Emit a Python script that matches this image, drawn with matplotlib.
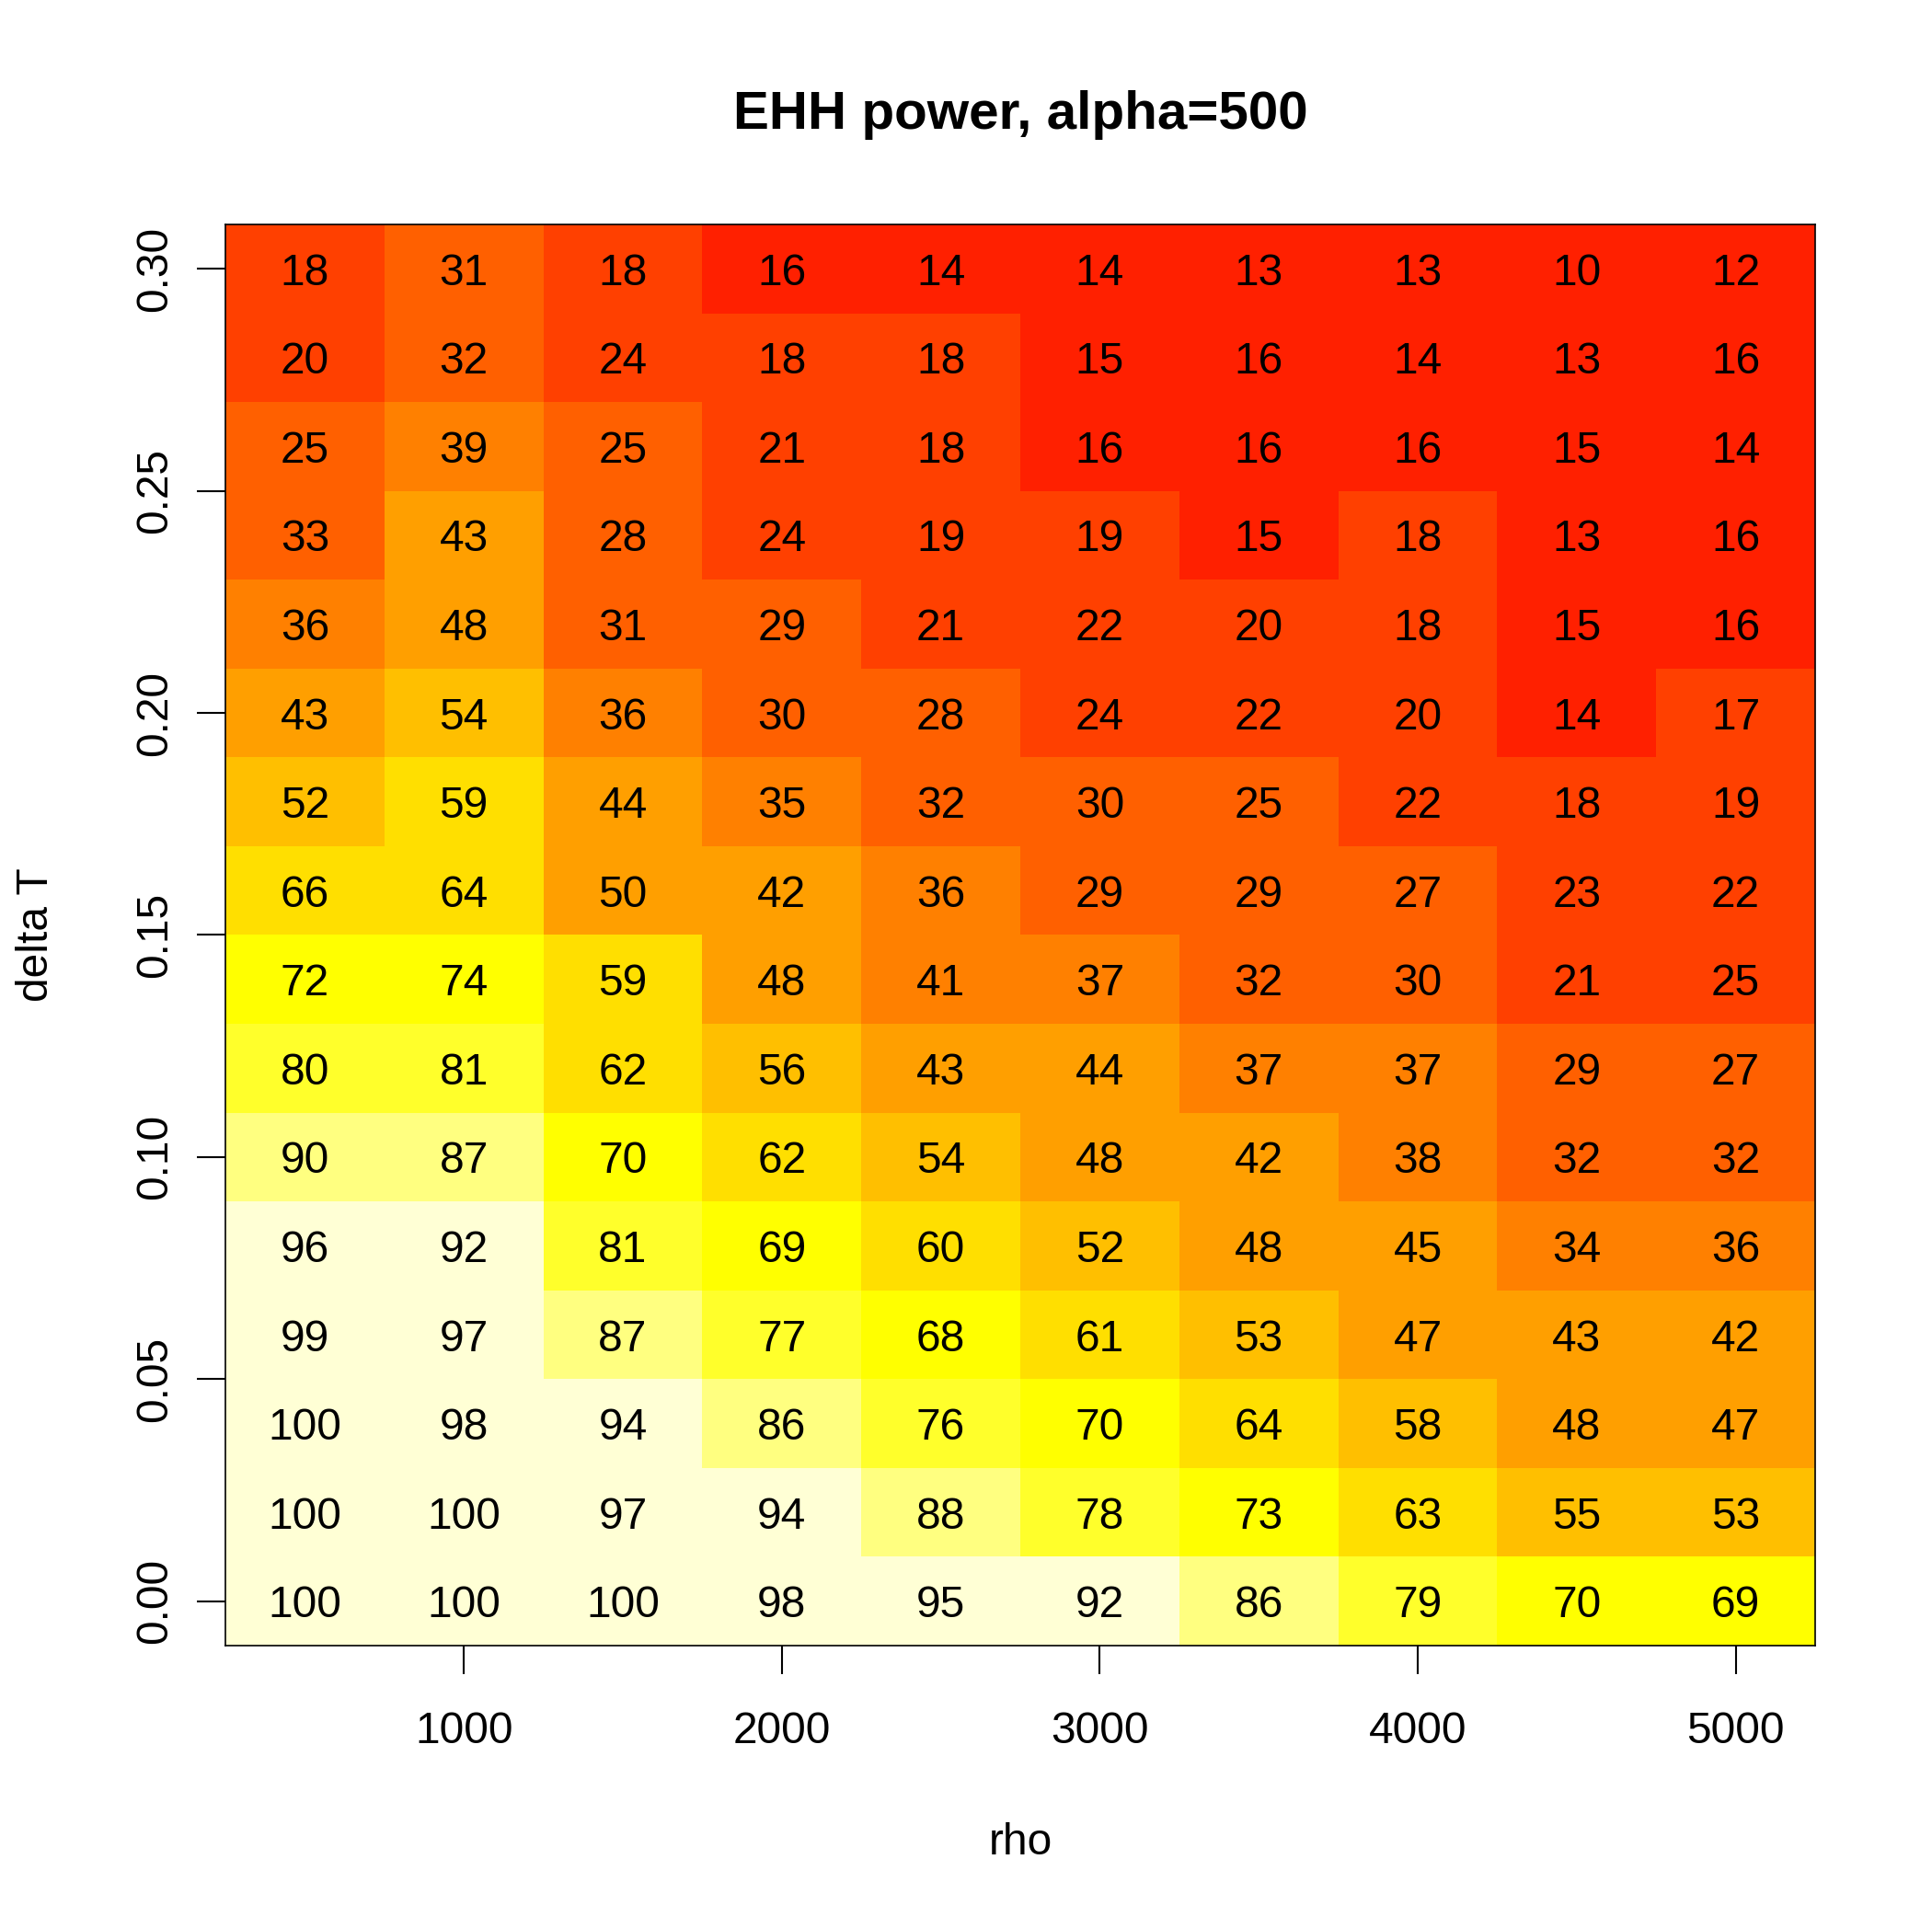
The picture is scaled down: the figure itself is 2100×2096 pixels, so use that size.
import matplotlib
matplotlib.use("Agg")
import matplotlib.pyplot as plt
from matplotlib.colors import ListedColormap
import numpy as np

plt.rcParams['font.family'] = ['Liberation Sans', 'DejaVu Sans']

# data (rows from delta T = 0.30 down to 0.00)
rho = [500, 1000, 1500, 2000, 2500, 3000, 3500, 4000, 4500, 5000]
delta_t = [0.30, 0.28, 0.26, 0.24, 0.22, 0.20, 0.18, 0.16,
           0.14, 0.12, 0.10, 0.08, 0.06, 0.04, 0.02, 0.00]
power = [
    [18, 31, 18, 16, 14, 14, 13, 13, 10, 12],
    [20, 32, 24, 18, 18, 15, 16, 14, 13, 16],
    [25.2, 39, 25.2, 21, 18, 16, 16, 16, 15, 14],
    [33, 43, 28, 24, 19, 19, 15, 18, 13, 16],
    [36, 48, 31, 29, 21, 22, 20, 18, 15, 16],
    [43, 54, 36, 30, 28, 24, 22, 20, 14, 17],
    [52, 59, 44, 35, 32, 30, 25.2, 22, 18, 19],
    [66, 64, 50, 42, 36, 29, 29, 27, 23, 22],
    [72, 74, 59, 48, 41, 37, 32, 30, 21, 24.9],
    [80, 81, 62, 56, 43, 44, 37, 37, 29, 27],
    [90, 87, 70, 62, 54, 48, 42, 38, 32, 32],
    [96, 92, 81, 69, 60, 52, 48, 45, 34, 36],
    [99, 97, 87, 77, 68, 61, 53, 47, 43, 42],
    [100, 98, 94, 86, 76, 70, 64, 58, 48, 47],
    [100, 100, 97, 94, 88, 78, 73, 63, 55, 53],
    [100, 100, 100, 98, 95, 92, 86, 79, 70, 69],
]

# R heat.colors(12)
heat = ['#FF0000', '#FF2000', '#FF4000', '#FF6000', '#FF8000', '#FF9F00',
        '#FFBF00', '#FFDF00', '#FFFF00', '#FFFF2B', '#FFFF80', '#FFFFD5']

z = np.array(power, dtype=float)
x = np.array(rho, dtype=float)
y = np.array(delta_t, dtype=float)

# bins (lo, hi] on 0..100, like R image()
idx = np.clip(np.ceil(z * 12 / 100) - 1, 0, 11)

xe = np.concatenate([x - 250, [x[-1] + 250]])
ye = np.concatenate([y + 0.01, [y[-1] - 0.01]])

fig = plt.figure(figsize=(14, 2096 / 150), dpi=150)
ax = fig.add_axes([245 / 2100, 1 - 1789 / 2096, 1728 / 2100, 1545 / 2096])

ax.pcolormesh(xe, ye, idx, cmap=ListedColormap(heat), vmin=-0.5, vmax=11.5,
              shading='flat', antialiased=False)

for i in range(len(y)):
    for j in range(len(x)):
        ax.text(x[j], y[i], str(int(round(z[i, j]))), ha='center',
                va='center_baseline', fontsize=23, color='black')

ax.set_xlim(xe[0], xe[-1])
ax.set_ylim(ye[-1], ye[0])
ax.set_xticks([1000, 2000, 3000, 4000, 5000])
ax.set_xticklabels(['1000', '2000', '3000', '4000', '5000'])
ax.set_yticks([0.00, 0.05, 0.10, 0.15, 0.20, 0.25, 0.30])
ax.set_yticklabels(['0.00', '0.05', '0.10', '0.15', '0.20', '0.25', '0.30'],
                   rotation=90, va='center')
ax.tick_params(axis='both', length=15, width=1, labelsize=23)
ax.tick_params(axis='x', pad=19)
ax.tick_params(axis='y', pad=11)
for s in ax.spines.values():
    s.set_linewidth(0.8)

fig.text(1109 / 2100, 1 - 125 / 2096, "EHH power, alpha=500", ha='center',
         va='center', fontsize=28, fontweight='bold')
fig.text(1109 / 2100, 1 - 2004 / 2096, "rho", ha='center', va='center', fontsize=23)
fig.text(40 / 2100, 1 - 1016 / 2096, "delta T", ha='center', va='center',
         rotation=90, fontsize=23)

fig.savefig("out.png", dpi=150)
